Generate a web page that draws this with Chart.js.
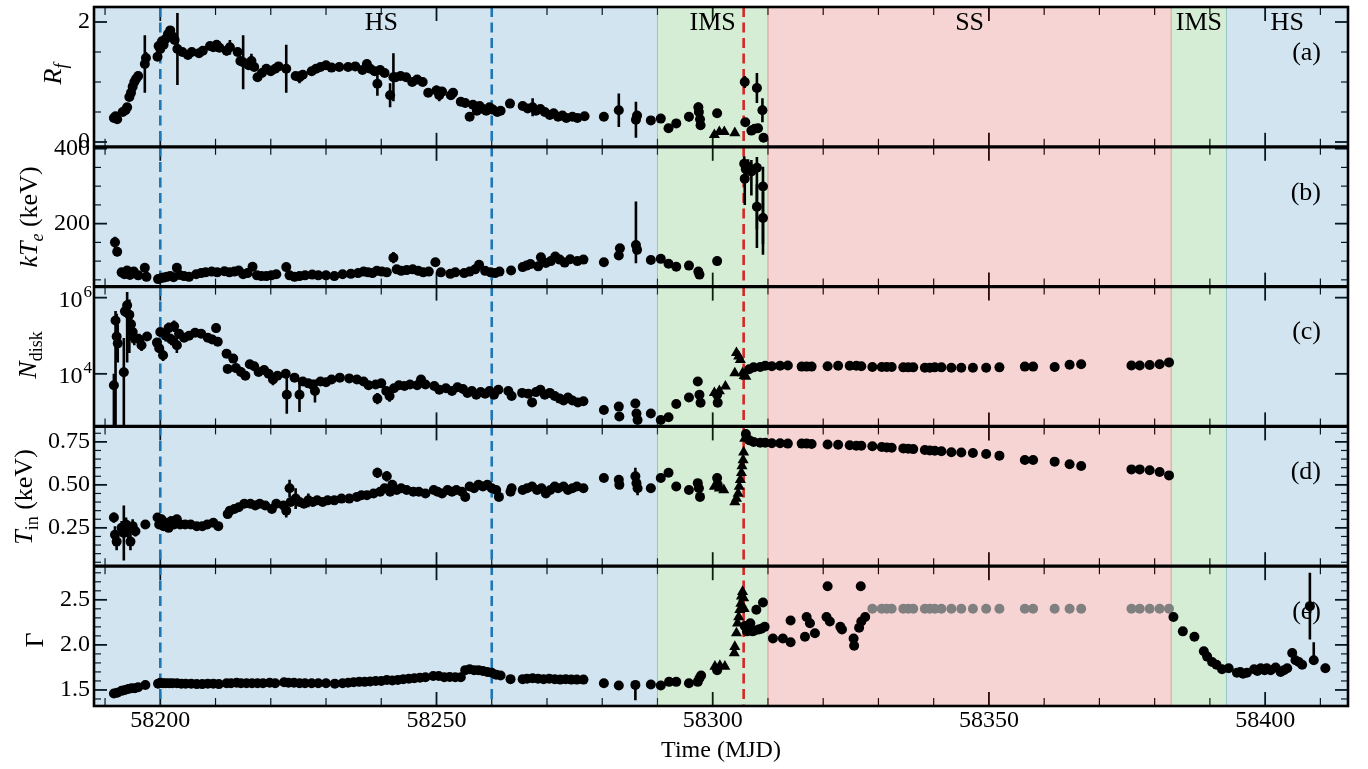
<!DOCTYPE html>
<html>
<head>
<meta charset="utf-8">
<title>Spectral evolution</title>
<script src="https://cdn.jsdelivr.net/npm/chart.js@4.4.1/dist/chart.umd.min.js"></script>
<style>
  html, body { margin: 0; padding: 0; background: #fff; }
  #wrap { position: relative; width: 1368px; height: 769px; }
</style>
</head>
<body>
<div id="wrap"><canvas id="lc" width="1368" height="769"></canvas></div>
<script>
// ---- time axis -------------------------------------------------------
const xMajor = [58200, 58250, 58300, 58350, 58400];
const xMinor = [58190, 58210, 58220, 58230, 58240, 58260, 58270, 58280, 58290,
                58310, 58320, 58330, 58340, 58360, 58370, 58380, 58390, 58410];

// spectral states and transition markers
const stateName  = ['HS', 'IMS', 'SS', 'IMS', 'HS'];
const stateStart = [58190, 58290, 58310, 58383, 58393];
const stateEnd   = [58290, 58310, 58383, 58393, 58415];
const blueMarks  = [58200, 58260];
const redMark    = 58305.6;

// y ticks per panel
const rfMajor = [0, 2],             rfMinor = [0.5, 1, 1.5];
const kteMajor = [200, 400],        kteMinor = [50, 100, 150, 250, 300, 350];
const ndiskMajor = [1e4, 1e6],      ndiskMinor = [];
const tinMajor = [0.25, 0.5, 0.75], tinMinor = [0.05, 0.1, 0.15, 0.2, 0.3, 0.35, 0.4, 0.45, 0.55, 0.6, 0.65, 0.7, 0.8];
const gamMajor = [1.5, 2.0, 2.5],   gamMinor = [1.4, 1.6, 1.7, 1.8, 1.9, 2.1, 2.2, 2.3, 2.4, 2.6, 2.7, 2.8];

// ---- (a) reflection fraction: [MJD, R_f, err]
const rfPts = [
  [58191.6,0.40,0.04],[58191.9,0.43,0.05],[58192.2,0.38,0.04],[58193.2,0.50,0.03],[58193.7,0.53,0.04],
  [58194.0,0.58,0.04],[58194.4,0.75,0.05],[58194.7,0.82,0.05],[58195.0,0.92,0.06],[58195.3,1.00,0.06],
  [58195.6,1.05,0.06],[58196.0,1.10,0.08],[58197.2,1.30,0.48],[58197.4,1.40,0.10],[58199.5,1.42,0.05],
  [58199.7,1.60,0.08],[58200.0,1.55,0.06],[58200.3,1.68,0.05],[58200.6,1.62,0.05],[58201.0,1.72,0.05],
  [58201.4,1.80,0.05],[58201.8,1.86,0.06],[58202.2,1.76,0.05],[58202.6,1.70,0.05],[58203.1,1.55,0.60],
  [58204.0,1.50,0.04],[58205.0,1.45,0.04],[58205.7,1.50,0.04],[58207.0,1.48,0.04],[58207.7,1.52,0.04],
  [58209.0,1.60,0.04],[58209.6,1.58,0.04],[58210.2,1.62,0.04],[58210.7,1.57,0.04],[58212.0,1.52,0.08],
  [58212.6,1.58,0.12],[58214.0,1.50,0.05],[58214.5,1.35,0.06],[58215.0,1.33,0.45],[58216.0,1.28,0.06],
  [58216.5,1.35,0.12],[58217.0,1.25,0.05],[58217.6,1.08,0.05],[58218.4,1.15,0.04],[58219.2,1.22,0.04],
  [58220.0,1.18,0.05],[58220.8,1.22,0.04],[58221.4,1.26,0.05],[58222.8,1.22,0.40],[58224.5,1.10,0.04],
  [58225.2,1.08,0.10],[58225.8,1.12,0.04],[58227.4,1.18,0.04],[58228.2,1.22,0.04],[58229.0,1.25,0.04],
  [58230.0,1.28,0.05],[58231.0,1.24,0.04],[58232.4,1.25,0.04],[58234.0,1.25,0.04],[58235.3,1.26,0.04],
  [58236.6,1.20,0.04],[58237.4,1.30,0.05],[58238.0,1.22,0.04],[58238.8,1.18,0.04],[58239.3,0.97,0.20],
  [58239.8,1.20,0.05],[58240.6,1.15,0.05],[58241.6,0.78,0.20],[58242.2,1.08,0.40],[58242.6,1.08,0.04],
  [58243.5,1.10,0.04],[58244.5,1.08,0.04],[58245.6,1.00,0.04],[58246.5,1.04,0.04],[58247.5,1.00,0.04],
  [58248.5,0.82,0.04],[58250.0,0.86,0.08],[58250.5,0.78,0.10],[58251.0,0.84,0.04],[58252.6,0.78,0.04],
  [58253.0,0.82,0.04],[58254.4,0.67,0.03],[58255.2,0.65,0.03],[58256.0,0.42,0.04],[58256.6,0.62,0.03],
  [58257.3,0.52,0.03],[58257.8,0.60,0.03],[58258.4,0.55,0.03],[58259.0,0.52,0.04],[58259.6,0.58,0.04],
  [58260.2,0.54,0.04],[58261.0,0.50,0.03],[58261.6,0.52,0.03],[58263.3,0.64,0.04],[58265.6,0.60,0.03],
  [58266.5,0.56,0.04],[58267.4,0.58,0.15],[58268.0,0.52,0.05],[58268.8,0.55,0.04],[58269.6,0.50,0.04],
  [58270.5,0.45,0.04],[58271.2,0.48,0.04],[58272.0,0.42,0.03],[58272.8,0.44,0.04],[58273.5,0.40,0.03],
  [58274.6,0.42,0.03],[58275.5,0.40,0.03],[58276.8,0.43,0.03],[58280.3,0.42,0.06],[58283.0,0.53,0.28],
  [58286.1,0.37,0.30],[58286.3,0.44,0.05],[58288.8,0.36,0.03],[58290.6,0.39,0.04],[58292.0,0.23,0.05],
  [58293.4,0.31,0.05],[58295.7,0.42,0.08],[58297.4,0.58,0.08],[58297.5,0.50,0.06],[58297.7,0.38,0.05],
  [58297.8,0.28,0.04],[58300.8,0.48,0.05],[58305.8,1.00,0.10],[58305.9,0.33,0.04],[58307.0,0.19,0.04],
  [58307.6,0.22,0.04],[58308.0,0.90,0.25],[58308.2,0.23,0.04],[58309.0,0.53,0.20],[58309.2,0.07,0.03]
];
const rfTri = [[58300.3,0.12],[58301.2,0.17],[58302.1,0.17],[58304.0,0.15]];

// ---- (b) electron temperature kT_e (keV): [MJD, kTe, err or [minus, plus]]
const ktePts = [
  [58191.8,150,15],[58192.2,125,12],[58193.0,70,6],[58193.5,65,5],[58194.0,75,8],[58194.5,63,5],
  [58195.2,72,6],[58196.0,62,5],[58197.2,82,6],[58197.5,58,4],[58199.6,52,4],[58200.2,55,3],
  [58200.6,56,3],[58201.2,58,3],[58201.8,60,3],[58202.4,57,3],[58203.0,82,6],[58203.5,63,3],
  [58204.3,60,3],[58205.2,58,3],[58206.5,65,3],[58207.4,68,3],[58208.2,70,3],[58209.3,72,3],
  [58210.3,70,3],[58211.6,73,3],[58212.5,70,3],[58213.4,72,8],[58214.2,75,10],[58215.0,65,4],
  [58215.8,68,3],[58216.7,85,5],[58217.5,62,3],[58218.3,60,3],[58219.2,60,3],[58220.1,62,3],
  [58221.0,65,3],[58222.8,84,5],[58223.4,62,3],[58224.3,58,3],[58225.2,60,3],[58226.2,62,3],
  [58227.5,64,3],[58228.6,62,3],[58230.0,62,3],[58231.5,60,3],[58233.0,65,3],[58234.5,66,3],
  [58235.8,68,3],[58236.8,72,4],[58237.6,70,3],[58238.4,68,3],[58239.2,74,3],[58240.1,72,3],
  [58241.0,70,3],[58242.2,109,15],[58242.8,78,3],[58243.6,74,3],[58244.6,76,3],[58245.7,78,3],
  [58246.7,74,3],[58247.6,70,3],[58248.6,72,3],[58249.8,97,6],[58250.8,70,4],[58252.5,66,3],
  [58253.4,70,3],[58255.0,68,3],[58256.0,72,3],[58257.0,78,4],[58257.7,90,8],[58258.8,74,3],
  [58259.8,70,3],[58260.6,68,3],[58261.4,72,3],[58263.5,75,3],[58265.6,84,3],[58266.3,88,4],
  [58267.0,92,5],[58268.4,86,4],[58268.9,110,10],[58269.8,95,4],[58270.7,100,4],[58271.5,112,8],
  [58272.3,104,4],[58273.2,96,4],[58274.2,105,4],[58275.5,100,3],[58276.6,104,4],[58280.3,97,5],
  [58283.0,115,5],[58283.2,134,8],[58286.1,143,[49,116]],[58286.3,130,8],[58288.8,103,4],
  [58290.6,106,4],[58292.0,93,3],[58293.4,85,3],[58295.7,88,3],[58297.4,72,3],[58297.6,64,3],
  [58300.8,100,4],[58305.7,360,20],[58305.8,320,[70,27]],[58306.0,345,25],[58306.4,352,20],
  [58307.0,339,[64,31]],[58308.0,349,[214,29]],[58308.0,245,60],[58309.1,299,[182,53]],[58309.1,215,70]
];

// ---- (c) disk normalisation, log10 N_disk: [MJD, log10, err (dex) or [minus, plus]]
const ndiskPts = [
  [58191.6,3.70,[1.2,0.3]],[58191.9,5.40,[2.8,0.25]],[58192.1,4.98,0.6],[58192.3,4.80,0.5],
  [58193.4,4.04,[1.5,0.9]],[58193.6,5.64,0.15],[58194.0,5.80,[1.5,0.35]],[58194.4,5.55,[1.0,0.4]],
  [58194.7,5.30,0.30],[58195.0,5.10,0.30],[58195.3,4.95,0.20],[58196.2,4.90,0.15],[58196.6,4.75,0.15],
  [58197.6,4.98,0.12],[58199.4,4.82,0.10],[58199.8,4.67,0.10],[58200.0,5.10,0.10],[58200.5,4.49,0.15],
  [58201.0,5.00,0.15],[58201.5,5.20,0.15],[58202.0,4.90,0.15],[58202.5,5.25,0.15],[58203.0,4.75,0.20],
  [58203.4,5.05,0.12],[58204.3,4.95,0.10],[58205.2,5.00,0.10],[58206.3,5.08,0.08],[58207.4,5.05,0.08],
  [58208.6,4.95,0.08],[58209.4,4.90,0.08],[58210.1,5.20,0.12],[58210.4,4.84,0.08],[58212.0,4.53,0.10],
  [58212.2,4.13,0.10],[58213.2,4.40,0.10],[58213.7,4.15,0.10],[58214.6,4.05,0.10],[58215.4,3.95,0.10],
  [58216.2,4.25,0.08],[58217.0,4.20,0.08],[58217.8,4.05,0.10],[58218.8,4.10,0.08],[58219.6,4.00,0.10],
  [58220.4,3.85,0.15],[58221.2,3.95,0.08],[58222.7,4.00,0.10],[58222.9,3.45,0.50],[58224.3,3.90,0.10],
  [58225.2,3.45,0.45],[58225.8,3.80,0.10],[58226.8,3.75,0.10],[58227.6,3.70,0.15],[58228.0,3.55,0.30],
  [58229.0,3.80,0.10],[58230.0,3.78,0.08],[58231.0,3.85,0.08],[58232.5,3.90,0.06],[58234.2,3.88,0.06],
  [58235.6,3.85,0.06],[58236.8,3.80,0.06],[58237.7,3.70,0.08],[58239.0,3.72,0.08],[58239.3,3.35,0.15],
  [58240.0,3.75,0.06],[58240.9,3.55,0.10],[58241.5,3.42,0.15],[58242.3,3.62,0.10],[58243.2,3.70,0.06],
  [58244.2,3.68,0.06],[58245.2,3.72,0.06],[58246.5,3.70,0.06],[58247.2,3.85,0.06],[58248.0,3.72,0.06],
  [58249.6,3.68,0.06],[58250.5,3.58,0.06],[58251.7,3.62,0.06],[58252.8,3.55,0.06],[58253.8,3.65,0.06],
  [58254.8,3.60,0.06],[58255.6,3.50,0.06],[58256.4,3.55,0.06],[58257.2,3.45,0.06],[58258.0,3.52,0.06],
  [58258.8,3.48,0.06],[58259.6,3.55,0.06],[58260.4,3.45,0.06],[58261.2,3.58,0.06],[58263.0,3.55,0.06],
  [58263.6,3.42,0.06],[58265.5,3.50,0.06],[58266.6,3.48,0.06],[58267.3,3.25,0.06],[58268.0,3.52,0.06],
  [58268.8,3.58,0.06],[58269.6,3.45,0.06],[58270.5,3.50,0.06],[58271.4,3.42,0.06],[58272.3,3.35,0.06],
  [58273.0,3.30,0.06],[58273.8,3.38,0.06],[58274.6,3.30,0.06],[58275.6,3.25,0.05],[58276.6,3.28,0.05],
  [58280.3,3.05,0.08],[58283.0,3.14,0.06],[58283.1,2.88,0.08],[58286.0,3.22,0.10],[58286.2,2.96,0.08],
  [58286.4,2.79,0.10],[58288.8,2.96,0.06],[58290.6,2.79,0.06],[58292.0,2.86,0.06],[58293.4,3.21,0.06],
  [58295.7,3.38,0.08],[58297.3,3.80,0.10],[58297.6,3.45,0.08],[58297.8,3.24,0.08],[58300.8,3.45,0.08],
  [58300.9,3.24,0.08],
  [58306.6,4.12],[58307.4,4.17],[58308.6,4.18],[58309.5,4.21],[58310.7,4.20],[58312.2,4.21],[58313.6,4.22],
  [58316.1,4.19],[58317.0,4.19],[58317.9,4.19],[58320.8,4.20],[58322.7,4.21],[58324.8,4.21],[58326.0,4.21],
  [58326.9,4.20],[58328.9,4.18],[58330.6,4.18],[58331.5,4.18],[58332.4,4.18],[58334.5,4.17],[58335.4,4.17],
  [58336.3,4.17],[58338.4,4.16],[58339.3,4.16],[58340.2,4.17],[58341.4,4.17],[58343.2,4.16],[58345.0,4.16],
  [58347.1,4.16],[58349.5,4.16],[58351.9,4.17],[58356.5,4.19],[58358.0,4.19],[58361.9,4.18],[58364.6,4.24],
  [58366.7,4.25],[58375.8,4.22],[58377.3,4.22],[58379.1,4.23],[58380.9,4.25],[58382.6,4.30]
];
const ndiskTri = [[58300.3,3.50],[58301.2,3.55],[58302.3,3.67],[58304.0,4.02],[58304.3,4.55],
                  [58304.7,4.46],[58305.0,4.37],[58305.4,4.02],[58305.7,3.95],[58306.0,3.93]];

// ---- (d) inner disk temperature T_in (keV): [MJD, T_in, err]
const tinPts = [
  [58191.6,0.31,0.03],[58191.8,0.21,0.05],[58192.1,0.17,0.05],[58193.0,0.25,0.04],[58193.4,0.22,0.16],
  [58193.8,0.27,0.04],[58194.2,0.24,0.05],[58194.6,0.17,0.05],[58195.0,0.26,0.04],[58195.5,0.23,0.03],
  [58197.3,0.27,0.02],[58199.5,0.31,0.02],[58199.8,0.27,0.02],[58200.2,0.30,0.02],[58200.6,0.26,0.02],
  [58201.0,0.28,0.02],[58201.5,0.25,0.02],[58202.0,0.29,0.02],[58202.5,0.27,0.02],[58203.0,0.30,0.02],
  [58203.6,0.27,0.02],[58204.5,0.27,0.01],[58205.5,0.27,0.01],[58206.6,0.26,0.01],[58207.6,0.26,0.01],
  [58208.5,0.27,0.01],[58209.6,0.28,0.01],[58210.5,0.26,0.01],[58212.2,0.33,0.01],[58212.6,0.35,0.01],
  [58213.4,0.36,0.01],[58214.2,0.37,0.01],[58215.2,0.39,0.01],[58216.3,0.39,0.01],[58217.2,0.38,0.01],
  [58218.0,0.39,0.01],[58219.0,0.38,0.02],[58220.2,0.36,0.02],[58221.0,0.39,0.02],[58222.3,0.38,0.02],
  [58223.4,0.48,0.05],[58222.8,0.35,0.04],[58223.6,0.40,0.02],[58224.5,0.42,0.06],[58225.2,0.40,0.02],
  [58226.0,0.39,0.02],[58226.8,0.41,0.04],[58227.6,0.40,0.02],[58228.4,0.41,0.02],[58229.4,0.40,0.02],
  [58230.3,0.41,0.02],[58231.5,0.41,0.02],[58232.8,0.42,0.02],[58234.2,0.42,0.02],[58235.6,0.43,0.02],
  [58236.4,0.44,0.02],[58237.4,0.44,0.02],[58238.6,0.45,0.02],[58239.3,0.57,0.03],[58239.8,0.46,0.02],
  [58240.6,0.48,0.02],[58241.0,0.55,0.03],[58241.6,0.46,0.02],[58242.0,0.50,0.02],[58242.8,0.47,0.02],
  [58243.6,0.48,0.01],[58244.6,0.47,0.01],[58245.8,0.46,0.01],[58246.8,0.46,0.01],[58248.0,0.45,0.01],
  [58249.5,0.47,0.02],[58250.2,0.46,0.01],[58251.0,0.45,0.01],[58252.0,0.47,0.02],[58252.8,0.46,0.01],
  [58253.6,0.47,0.01],[58254.6,0.46,0.01],[58255.2,0.43,0.02],[58256.0,0.49,0.01],[58256.8,0.48,0.01],
  [58257.6,0.50,0.01],[58258.4,0.49,0.01],[58259.2,0.50,0.01],[58260.0,0.48,0.01],[58260.8,0.47,0.01],
  [58261.3,0.43,0.01],[58263.4,0.46,0.02],[58263.6,0.48,0.01],[58265.6,0.47,0.01],[58266.4,0.48,0.01],
  [58267.3,0.49,0.01],[58268.2,0.47,0.01],[58269.0,0.48,0.01],[58269.8,0.45,0.01],[58270.6,0.47,0.01],
  [58271.4,0.49,0.01],[58272.0,0.48,0.01],[58273.0,0.49,0.01],[58273.8,0.47,0.01],[58274.6,0.48,0.01],
  [58275.4,0.49,0.01],[58276.6,0.48,0.01],[58280.3,0.54,0.01],[58283.0,0.53,0.02],[58283.1,0.50,0.02],
  [58286.0,0.55,0.05],[58286.2,0.51,0.02],[58286.4,0.48,0.04],[58288.8,0.48,0.01],[58290.6,0.54,0.02],
  [58292.0,0.57,0.02],[58293.4,0.49,0.01],[58295.7,0.47,0.01],[58297.3,0.51,0.02],[58297.5,0.48,0.02],
  [58297.7,0.43,0.01],[58300.8,0.54,0.02],[58300.9,0.50,0.01],
  [58306.0,0.796],[58306.6,0.76],[58307.4,0.75],[58308.6,0.745],[58309.5,0.745],[58310.7,0.742],
  [58312.2,0.742],[58313.6,0.74],[58316.1,0.74],[58317.0,0.74],[58317.9,0.738],[58320.8,0.735],
  [58322.7,0.733],[58324.8,0.73],[58326.0,0.728],[58326.9,0.727],[58328.9,0.725],[58330.6,0.72],
  [58331.5,0.718],[58332.4,0.716],[58334.5,0.712],[58335.4,0.71],[58336.3,0.708],[58338.4,0.703],
  [58339.3,0.70],[58340.2,0.698],[58341.4,0.695],[58343.2,0.69],[58345.0,0.688],[58347.1,0.685],
  [58349.5,0.68],[58351.9,0.67],[58356.5,0.645],[58358.0,0.645],[58361.9,0.635],[58364.6,0.62],
  [58366.7,0.61],[58375.8,0.59],[58377.3,0.59],[58379.1,0.585],[58380.9,0.575],[58382.6,0.555]
];
const tinTri = [[58300.3,0.49],[58301.2,0.48],[58302.0,0.47],[58304.0,0.40],[58304.3,0.42],[58304.6,0.45],
                [58304.8,0.49],[58305.0,0.53],[58305.2,0.57],[58305.3,0.61],[58305.5,0.645],[58305.6,0.69],
                [58305.8,0.77]];

// ---- (e) photon index Gamma: [MJD, Gamma, err]
const gamPts = [
  [58191.6,1.46],[58192.2,1.47],[58193.0,1.49],[58193.6,1.50],[58194.2,1.51],[58194.8,1.52],[58195.4,1.52],
  [58196.0,1.53],[58197.3,1.555],[58199.6,1.57],[58200.0,1.58],[58200.5,1.575],[58201.0,1.575],[58201.6,1.575],
  [58202.2,1.575],[58203.0,1.575],[58203.8,1.57],[58204.6,1.57],[58205.6,1.57],[58206.6,1.565],[58207.6,1.565],
  [58208.6,1.57],[58209.6,1.57],[58210.6,1.565],[58212.0,1.575],[58212.8,1.575],[58213.8,1.58],[58214.6,1.575],
  [58215.6,1.575],[58216.6,1.575],[58217.6,1.575],[58218.6,1.575],[58219.8,1.58],[58220.8,1.575],[58222.4,1.585],
  [58223.2,1.58],[58224.2,1.58],[58225.2,1.575],[58226.2,1.575],[58227.4,1.575],[58228.6,1.575],[58230.0,1.575],
  [58231.6,1.57],[58233.0,1.575],[58234.0,1.58],[58235.0,1.585],[58236.0,1.59],[58237.0,1.59],[58238.0,1.595],
  [58239.0,1.60],[58240.0,1.60],[58241.0,1.61],[58242.0,1.605],[58243.0,1.61],[58244.0,1.62],[58245.0,1.625],
  [58246.0,1.63],[58247.0,1.635],[58248.0,1.64],[58249.4,1.655],[58250.4,1.655],[58251.4,1.64],[58252.4,1.645],
  [58253.4,1.64],[58254.4,1.64],[58255.2,1.72],[58256.0,1.73],[58256.8,1.72],[58257.6,1.72],[58258.4,1.71],
  [58259.2,1.70],[58260.0,1.69],[58260.8,1.67],[58261.6,1.66],[58263.4,1.62],[58265.6,1.62],[58266.4,1.625],
  [58267.4,1.63],[58268.4,1.625],[58269.4,1.62],[58270.4,1.625],[58271.4,1.62],[58272.4,1.615],[58273.4,1.62],
  [58274.4,1.615],[58275.4,1.615],[58276.6,1.615],[58280.3,1.574],[58283.0,1.55],[58286.0,1.556,[0.17,0.01]],
  [58288.8,1.56],[58290.6,1.55],[58292.1,1.59],[58293.4,1.59],[58295.7,1.574],[58297.3,1.59],[58297.6,1.63],
  [58297.9,1.66],[58300.8,1.72],
  [58305.8,2.21],[58306.2,2.15],[58306.8,2.24],[58307.2,2.15],[58307.6,2.16],[58307.9,2.39],[58308.3,2.17],
  [58308.8,2.18],[58309.1,2.47],[58309.4,2.20],
  [58310.9,2.07],[58312.7,2.07],[58314.1,2.03],[58314.1,2.27],[58316.7,2.09],[58317.0,2.31],[58317.6,2.24],
  [58318.5,2.13],[58320.8,2.65],[58320.6,2.31],[58321.2,2.26],[58323.1,2.20],[58323.4,2.17],[58325.5,2.07],
  [58325.6,1.99],[58326.8,2.65],[58326.5,2.19],[58326.9,2.26],[58327.6,2.31],
  [58383.4,2.31],[58385.1,2.15],[58387.2,2.09],[58388.9,1.93],[58389.5,1.87],[58390.4,1.81],[58391.2,1.78],
  [58392.2,1.73],[58393.4,1.74],[58394.9,1.69],[58395.5,1.70,0.02],[58396.0,1.68],[58396.7,1.69],[58398.0,1.73],
  [58398.6,1.71],[58399.2,1.74,0.02],[58399.9,1.72],[58400.3,1.74],[58401.0,1.72],[58401.9,1.75],[58402.8,1.70],
  [58403.4,1.72],[58404.0,1.74],[58404.9,1.91,0.04],[58405.5,1.83],[58406.1,1.81],[58406.7,1.78,0.02],
  [58408.1,2.43,0.37],[58408.8,1.83,[0.05,0.2]],[58410.9,1.74,0.05]
];
const gamTri = [[58300.4,1.76],[58301.3,1.77],[58302.2,1.76],[58303.9,1.91],[58304.0,1.98],[58304.3,2.13],
                [58304.5,2.24],[58304.7,2.31],[58304.9,2.39],[58305.1,2.46],[58305.2,2.54],[58305.4,2.59],
                [58305.6,2.52],[58305.7,2.40]];
// soft-state epochs where Gamma was frozen
const gamFixed = [[58328.9,2.4],[58330.6,2.4],[58331.5,2.4],[58332.4,2.4],[58334.5,2.4],[58335.4,2.4],
                  [58336.3,2.4],[58338.4,2.4],[58339.3,2.4],[58340.2,2.4],[58341.4,2.4],[58343.2,2.4],
                  [58345.0,2.4],[58347.1,2.4],[58349.5,2.4],[58351.9,2.4],[58356.5,2.4],[58358.0,2.4],
                  [58361.9,2.4],[58364.6,2.4],[58366.7,2.4],[58375.8,2.4],[58377.3,2.4],[58379.1,2.4],
                  [58380.9,2.4],[58382.6,2.4]];

// ---------------------------------------------------------------------
const serif = '"Liberation Serif", "Times New Roman", serif';
const panelIds = ['yA', 'yB', 'yC', 'yD', 'yE'];

function toPoints(list, log) {
  const f = log ? (u => Math.pow(10, u)) : (u => u);
  return list.map(([t, v, e = 0]) => {
    const [em, ep] = Array.isArray(e) ? e : [e, e];
    return { x: t, y: f(v), lo: f(v - em), hi: f(v + ep) };
  });
}

function marks(data, yAxisID, style, color) {
  return {
    type: 'scatter', data, yAxisID, xAxisID: 'x',
    pointStyle: style,
    pointRadius: style === 'triangle' ? 6.4 : 5,
    pointBackgroundColor: color || '#000',
    pointBorderColor: color || '#000',
    pointBorderWidth: 0,
    showLine: false
  };
}

function yAxis(type, min, max, majors, fmt) {
  return {
    type, min, max, position: 'left', stack: 'panels', stackWeight: 1,
    grid: { display: false, drawTicks: false },
    border: { display: false },
    ticks: { font: { family: serif, size: 24 }, color: '#000', padding: 4, autoSkip: false, callback: fmt },
    afterBuildTicks: s => { s.ticks = majors.map(v => ({ value: v })); },
    afterFit: s => { s.width = 94; s.paddingTop = 0; s.paddingBottom = 0; }
  };
}

const minorFor = { yA: rfMinor, yB: kteMinor, yC: ndiskMinor, yD: tinMinor, yE: gamMinor };
const letters = { yA: '(a)', yB: '(b)', yC: '(c)', yD: '(d)', yE: '(e)' };
const stateFill = { HS: 'rgba(31,119,180,0.2)', IMS: 'rgba(44,160,44,0.2)', SS: 'rgba(214,39,40,0.2)' };

function line(ctx, x0, y0, x1, y1) {
  ctx.beginPath(); ctx.moveTo(x0, y0); ctx.lineTo(x1, y1); ctx.stroke();
}

// rotated axis title made of pieces: [text, font, baseline shift]
function vTitle(ctx, parts, xBase, yMid) {
  ctx.save();
  ctx.translate(xBase, yMid);
  ctx.rotate(-Math.PI / 2);
  ctx.fillStyle = '#000';
  ctx.textAlign = 'left';
  ctx.textBaseline = 'alphabetic';
  let w = 0;
  parts.forEach(p => { ctx.font = p[1]; w += ctx.measureText(p[0]).width; });
  let x = -w / 2;
  parts.forEach(p => { ctx.font = p[1]; ctx.fillText(p[0], x, p[2]); x += ctx.measureText(p[0]).width; });
  ctx.restore();
}

const decor = {
  id: 'decor',
  beforeDatasetsDraw(chart) {
    const { ctx, chartArea: ca, scales } = chart;
    const xs = scales.x;
    ctx.save();
    // inward tick marks on every panel edge
    ctx.strokeStyle = '#000';
    panelIds.forEach(id => {
      const ys = scales[id];
      [[xMajor, 14, 1.8], [xMinor, 8, 1.2]].forEach(([vals, len, lw]) => {
        ctx.lineWidth = lw;
        vals.forEach(v => {
          const px = xs.getPixelForValue(v);
          line(ctx, px, ys.top, px, ys.top + len);
          line(ctx, px, ys.bottom, px, ys.bottom - len);
        });
      });
      [[ys.ticks.map(t => t.value), 13, 1.8], [minorFor[id], 7, 1.2]].forEach(([vals, len, lw]) => {
        ctx.lineWidth = lw;
        vals.forEach(v => {
          const py = ys.getPixelForValue(v);
          line(ctx, ca.left, py, ca.left + len, py);
          line(ctx, ca.right, py, ca.right - len, py);
        });
      });
    });
    // spectral state bands
    stateName.forEach((name, i) => {
      const x0 = i === 0 ? ca.left : xs.getPixelForValue(stateStart[i]);
      const x1 = Math.min(xs.getPixelForValue(stateEnd[i]), ca.right);
      ctx.fillStyle = stateFill[name];
      ctx.fillRect(x0, ca.top, x1 - x0, ca.bottom - ca.top);
      ctx.strokeStyle = stateFill[name];
      ctx.lineWidth = 1;
      ctx.strokeRect(x0, ca.top, x1 - x0, ca.bottom - ca.top);
    });
    // transition markers
    ctx.lineWidth = 2.6;
    ctx.setLineDash([10, 5.5]);
    ctx.strokeStyle = '#1f77b4';
    blueMarks.forEach(v => { const px = xs.getPixelForValue(v); line(ctx, px, ca.top, px, ca.bottom); });
    ctx.strokeStyle = '#d62728';
    const pr = xs.getPixelForValue(redMark);
    line(ctx, pr, ca.top, pr, ca.bottom);
    ctx.setLineDash([]);
    // error bars, clipped to their own panel
    chart.data.datasets.forEach(ds => {
      const ys = scales[ds.yAxisID];
      ctx.save();
      ctx.beginPath();
      ctx.rect(ca.left, ys.top, ca.right - ca.left, ys.bottom - ys.top);
      ctx.clip();
      ctx.strokeStyle = ds.pointBackgroundColor;
      ctx.lineWidth = 2.6;
      ds.data.forEach(d => {
        if (d.hi === d.lo) return;
        const px = xs.getPixelForValue(d.x);
        line(ctx, px, ys.getPixelForValue(d.lo), px, ys.getPixelForValue(d.hi));
      });
      ctx.restore();
    });
    ctx.restore();
  },
  afterDatasetsDraw(chart) {
    const { ctx, chartArea: ca, scales } = chart;
    ctx.save();
    ctx.strokeStyle = '#000';
    ctx.lineWidth = 2.6;
    ctx.strokeRect(ca.left, ca.top, ca.right - ca.left, ca.bottom - ca.top);
    ctx.lineWidth = 3.2;
    panelIds.slice(1).forEach(id => line(ctx, ca.left, scales[id].top, ca.right, scales[id].top));
    ctx.restore();
  },
  afterDraw(chart) {
    const { ctx, chartArea: ca, scales } = chart;
    const xs = scales.x;
    ctx.save();
    ctx.fillStyle = '#000';
    // state names along the top
    ctx.font = '26px ' + serif;
    ctx.textAlign = 'center';
    ctx.textBaseline = 'alphabetic';
    stateName.forEach((name, i) => {
      const mid = (xs.getPixelForValue(stateStart[i]) + Math.min(xs.getPixelForValue(stateEnd[i]), ca.right)) / 2;
      ctx.fillText(name, mid, ca.top + 23);
    });
    // panel letters
    ctx.textAlign = 'right';
    ctx.textBaseline = 'middle';
    panelIds.forEach(id => ctx.fillText(letters[id], 1321, scales[id].top + 46));
    // N_disk tick labels as powers of ten
    const yc = scales.yC;
    ndiskMajor.forEach(v => {
      const py = yc.getPixelForValue(v);
      const exp = String(Math.round(Math.log10(v)));
      ctx.font = '17px ' + serif;
      const we = ctx.measureText(exp).width;
      ctx.textAlign = 'right';
      ctx.textBaseline = 'alphabetic';
      ctx.fillText(exp, ca.left - 2, py - 1);
      ctx.font = '24px ' + serif;
      ctx.fillText('10', ca.left - 3 - we, py + 9);
    });
    // axis titles
    const it = 'italic 26px ' + serif, up = '26px ' + serif;
    const its = 'italic 18px ' + serif, ups = '18px ' + serif;
    vTitle(ctx, [['R', it, 0], ['f', its, 6]], 61, 74);
    vTitle(ctx, [['kT', it, 0], ['e', its, 6], [' (keV)', up, 0]], 37, 217);
    vTitle(ctx, [['N', it, 0], ['disk', ups, 6]], 36, 355);
    vTitle(ctx, [['T', it, 0], ['in', ups, 6], [' (keV)', up, 0]], 32, 497);
    vTitle(ctx, [['\u0393', up, 0]], 43, 640);
    ctx.restore();
  }
};

new Chart(document.getElementById('lc'), {
  data: {
    datasets: [
      marks(toPoints(rfPts), 'yA', 'circle'),
      marks(toPoints(rfTri), 'yA', 'triangle'),
      marks(toPoints(ktePts), 'yB', 'circle'),
      marks(toPoints(ndiskPts, true), 'yC', 'circle'),
      marks(toPoints(ndiskTri, true), 'yC', 'triangle'),
      marks(toPoints(tinPts), 'yD', 'circle'),
      marks(toPoints(tinTri), 'yD', 'triangle'),
      marks(toPoints(gamPts), 'yE', 'circle'),
      marks(toPoints(gamTri), 'yE', 'triangle'),
      marks(toPoints(gamFixed), 'yE', 'circle', '#808080')
    ]
  },
  options: {
    responsive: false,
    animation: false,
    devicePixelRatio: 1,
    events: [],
    layout: { padding: { left: 0, right: 20, top: 7, bottom: 0 } },
    plugins: { legend: { display: false }, tooltip: { enabled: false } },
    scales: {
      x: {
        type: 'linear', position: 'bottom', min: 58188, max: 58415,
        grid: { display: false, drawTicks: false },
        border: { display: false },
        ticks: { font: { family: serif, size: 24 }, color: '#000', padding: 0, autoSkip: false,
                 maxRotation: 0, minRotation: 0, callback: v => String(v) },
        afterBuildTicks: s => { s.ticks = xMajor.map(v => ({ value: v })); },
        afterFit: s => { s.height = 63; s.paddingLeft = 0; s.paddingRight = 0; },
        title: { display: true, text: 'Time (MJD)', color: '#000',
                 font: { family: serif, size: 24 }, padding: { top: 0, bottom: 4 } }
      },
      yE: yAxis('linear', 1.322, 2.873, gamMajor, v => v.toFixed(1)),
      yD: yAxis('linear', 0.027, 0.84, tinMajor, v => v.toFixed(2)),
      yC: yAxis('logarithmic', Math.pow(10, 2.62), Math.pow(10, 6.29), ndiskMajor, () => ''),
      yB: yAxis('linear', 32, 405, kteMajor, v => String(v)),
      yA: yAxis('linear', -0.08, 2.25, rfMajor, v => String(v))
    }
  },
  plugins: [decor]
});
</script>
</body>
</html>
